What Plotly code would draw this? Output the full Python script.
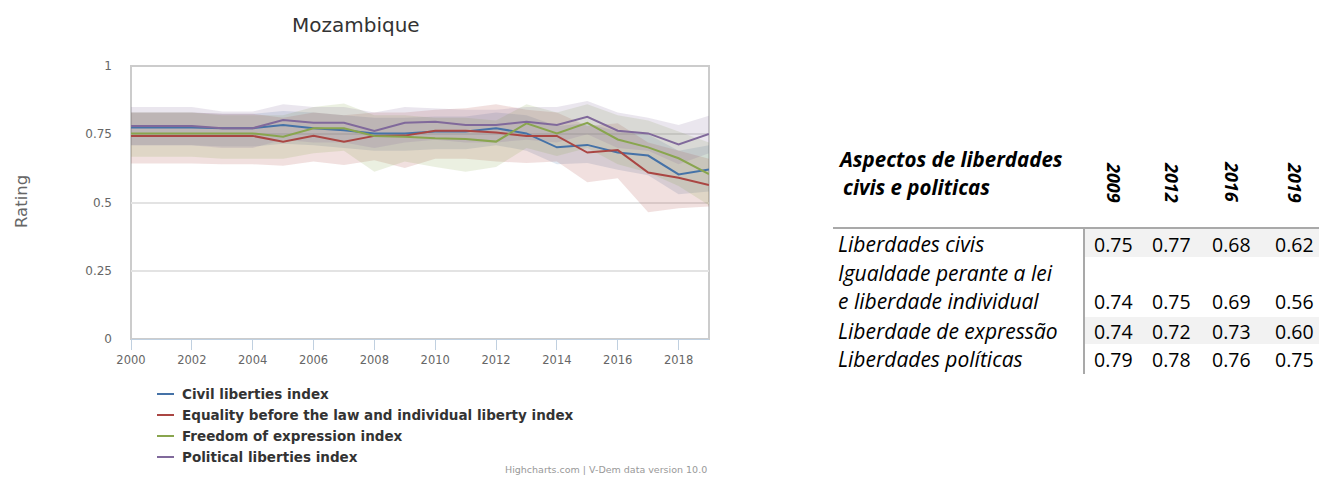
import plotly.graph_objects as go

# ---------------- data ----------------
years = list(range(2000, 2020))

series_names = [
    "Civil liberties index",
    "Equality before the law and individual liberty index",
    "Freedom of expression index",
    "Political liberties index",
]
series_colors = ["#4572A7", "#AA4643", "#89A54E", "#80699B"]

civil = [0.775, 0.775, 0.775, 0.772, 0.772, 0.784, 0.772, 0.765, 0.753, 0.753,
         0.760, 0.760, 0.772, 0.753, 0.702, 0.711, 0.683, 0.672, 0.603, 0.621]
civil_hi = [0.83, 0.83, 0.83, 0.825, 0.825, 0.835, 0.83, 0.82, 0.81, 0.81,
            0.815, 0.815, 0.83, 0.82, 0.78, 0.79, 0.76, 0.75, 0.69, 0.71]
civil_lo = [0.71, 0.71, 0.71, 0.705, 0.705, 0.715, 0.71, 0.70, 0.69, 0.69,
            0.695, 0.695, 0.71, 0.69, 0.64, 0.645, 0.62, 0.60, 0.53, 0.54]

equality = [0.744, 0.744, 0.744, 0.744, 0.744, 0.723, 0.744, 0.723, 0.744, 0.745,
            0.763, 0.763, 0.756, 0.744, 0.744, 0.683, 0.692, 0.610, 0.591, 0.564]
equality_hi = [0.83, 0.83, 0.83, 0.825, 0.825, 0.81, 0.83, 0.82, 0.83, 0.83,
               0.84, 0.845, 0.86, 0.84, 0.83, 0.78, 0.79, 0.72, 0.69, 0.66]
equality_lo = [0.643, 0.643, 0.643, 0.64, 0.64, 0.635, 0.65, 0.637, 0.655, 0.626,
               0.66, 0.66, 0.65, 0.645, 0.65, 0.574, 0.589, 0.464, 0.479, 0.485]

freedom = [0.753, 0.753, 0.753, 0.753, 0.753, 0.741, 0.772, 0.772, 0.744, 0.741,
           0.735, 0.733, 0.723, 0.790, 0.753, 0.792, 0.731, 0.702, 0.662, 0.604]
freedom_hi = [0.83, 0.83, 0.83, 0.82, 0.82, 0.82, 0.85, 0.863, 0.82, 0.82,
              0.81, 0.81, 0.80, 0.86, 0.83, 0.86, 0.82, 0.80, 0.76, 0.72]
freedom_lo = [0.668, 0.668, 0.668, 0.66, 0.66, 0.66, 0.68, 0.69, 0.613, 0.65,
              0.63, 0.613, 0.63, 0.70, 0.67, 0.70, 0.64, 0.61, 0.56, 0.49]

political = [0.780, 0.780, 0.780, 0.772, 0.772, 0.802, 0.792, 0.792, 0.762, 0.792,
             0.796, 0.784, 0.784, 0.796, 0.784, 0.814, 0.763, 0.753, 0.713, 0.751]
political_hi = [0.85, 0.85, 0.85, 0.833, 0.833, 0.86, 0.85, 0.85, 0.83, 0.85,
                0.845, 0.84, 0.84, 0.85, 0.85, 0.872, 0.83, 0.81, 0.784, 0.818]
political_lo = [0.71, 0.71, 0.71, 0.70, 0.70, 0.73, 0.72, 0.72, 0.70, 0.72,
                0.73, 0.72, 0.72, 0.73, 0.72, 0.75, 0.70, 0.69, 0.64, 0.68]

y_ticks = [0, 0.25, 0.5, 0.75, 1]
y_tick_labels = ["0", "0.25", "0.5", "0.75", "1"]

# table data
table_title = ["Aspectos de liberdades", "civis e politicas"]
table_years = ["2009", "2012", "2016", "2019"]
table_rows = [
    ["Liberdades civis"],
    ["Igualdade perante a lei", "e liberdade individual"],
    ["Liberdade de expressão"],
    ["Liberdades políticas"],
]
table_values = [
    ["0.75", "0.77", "0.68", "0.62"],
    ["0.74", "0.75", "0.69", "0.56"],
    ["0.74", "0.72", "0.73", "0.60"],
    ["0.79", "0.78", "0.76", "0.75"],
]

# ---------------- layout geometry (page pixels) ----------------
PAGE_W, PAGE_H = 1327, 485
OFF = 8  # default body margin of the html page
FIG_W, FIG_H = PAGE_W - 2 * OFF, PAGE_H - 2 * OFF - 2  # fits inside the body, no scrollbars
L, R, T, B = 131, 709, 66, 339  # plot area in page pixels


def px(x):
    return (x - L) / (R - L)


def py(y):
    return (B - y) / (B - T)


def rgba(hexc, a):
    h = hexc.lstrip("#")
    r, g, b = int(h[0:2], 16), int(h[2:4], 16), int(h[4:6], 16)
    return f"rgba({r},{g},{b},{a})"


fig = go.Figure()

values = [civil, equality, freedom, political]
highs = [civil_hi, equality_hi, freedom_hi, political_hi]
lows = [civil_lo, equality_lo, freedom_lo, political_lo]

# bands
for name, col, lo, hi in zip(series_names, series_colors, lows, highs):
    fig.add_trace(go.Scatter(x=years, y=lo, mode="lines", line=dict(width=0),
                             showlegend=False, hoverinfo="skip"))
    fig.add_trace(go.Scatter(x=years, y=hi, mode="lines", line=dict(width=0),
                             fill="tonexty", fillcolor=rgba(col, 0.17),
                             showlegend=False, hoverinfo="skip"))
# lines
for name, col, v in zip(series_names, series_colors, values):
    fig.add_trace(go.Scatter(x=years, y=v, mode="lines", name=name,
                             line=dict(color=col, width=2), showlegend=False))

shapes = []
annotations = []

# plot border
shapes.append(dict(type="rect", xref="paper", yref="paper", x0=0, x1=1, y0=0, y1=1,
                   line=dict(color="#cccccc", width=2), layer="below"))

# title
annotations.append(dict(text="Mozambique", xref="paper", yref="paper",
                        x=px(356), y=py(25), showarrow=False,
                        xanchor="center", yanchor="middle",
                        font=dict(family="DejaVu Sans", size=20, color="#333333")))
# y axis title
annotations.append(dict(text="Rating", xref="paper", yref="paper",
                        x=px(21), y=py(202), showarrow=False, textangle=-90,
                        xanchor="center", yanchor="middle",
                        font=dict(family="DejaVu Sans", size=16.5, color="#666666")))

# legend (manual)
leg_y = [394, 415, 436, 457]
for name, col, yy in zip(series_names, series_colors, leg_y):
    shapes.append(dict(type="line", xref="paper", yref="paper",
                       x0=px(157), x1=px(174), y0=py(yy), y1=py(yy),
                       line=dict(color=col, width=2)))
    annotations.append(dict(text="<b>" + name + "</b>", xref="paper", yref="paper",
                            x=px(180), y=py(yy), showarrow=False,
                            xanchor="left", yanchor="middle",
                            font=dict(family="DejaVu Sans", size=13.5, color="#333333")))

# credits
annotations.append(dict(text="Highcharts.com | V-Dem data version 10.0",
                        xref="paper", yref="paper", x=px(709), y=py(469),
                        showarrow=False, xanchor="right", yanchor="middle",
                        font=dict(family="DejaVu Sans", size=9.5, color="#999999")))

# ---------------- table ----------------
TF = "Open Sans"
TABLE_RIGHT = PAGE_W - OFF
# row shading
shapes.append(dict(type="rect", xref="paper", yref="paper",
                   x0=px(1085), x1=px(TABLE_RIGHT), y0=py(257), y1=py(229),
                   fillcolor="#f2f2f2", line=dict(width=0), layer="below"))
shapes.append(dict(type="rect", xref="paper", yref="paper",
                   x0=px(1085), x1=px(TABLE_RIGHT), y0=py(344), y1=py(317),
                   fillcolor="#f2f2f2", line=dict(width=0), layer="below"))
# rules
shapes.append(dict(type="line", xref="paper", yref="paper",
                   x0=px(833), x1=px(TABLE_RIGHT), y0=py(228), y1=py(228),
                   line=dict(color="#8c8c8c", width=1.5)))
shapes.append(dict(type="line", xref="paper", yref="paper",
                   x0=px(1084), x1=px(1084), y0=py(229), y1=py(374),
                   line=dict(color="#8c8c8c", width=1.5)))

# title lines
title_x = [836, 841]
title_y = [159, 187]
for txt, xx, yy in zip(table_title, title_x, title_y):
    annotations.append(dict(text="<b><i>" + txt + "</i></b>",
                            xref="paper", yref="paper", x=px(xx), y=py(yy),
                            showarrow=False, xanchor="left", yanchor="middle",
                            font=dict(family=TF, size=20.5, color="#000000")))

col_x = [1113, 1171, 1231, 1294]
for yr, cx in zip(table_years, col_x):
    annotations.append(dict(text="<b><i>" + yr + "</i></b>", xref="paper", yref="paper",
                            x=px(cx + 1), y=py(182), showarrow=False, textangle=90,
                            xanchor="center", yanchor="middle",
                            font=dict(family=TF, size=18, color="#000000")))

row_label_y = [[244], [273, 301], [331], [359]]
row_value_y = [244, 301, 331, 359]
for labels, ys, vals, vy in zip(table_rows, row_label_y, table_values, row_value_y):
    for lab, yy in zip(labels, ys):
        annotations.append(dict(text="<i>" + lab + "</i>", xref="paper", yref="paper",
                                x=px(836), y=py(yy), showarrow=False,
                                xanchor="left", yanchor="middle",
                                font=dict(family=TF, size=21, color="#000000")))
    for v, cx in zip(vals, col_x):
        annotations.append(dict(text=v, xref="paper", yref="paper",
                                x=px(cx), y=py(vy), showarrow=False,
                                xanchor="center", yanchor="middle",
                                font=dict(family=TF, size=19.5, color="#000000")))

fig.update_layout(
    width=FIG_W, height=FIG_H,
    margin=dict(l=L - OFF, r=(FIG_W + OFF) - R, t=T - OFF, b=(FIG_H + OFF) - B, pad=0),
    paper_bgcolor="white", plot_bgcolor="white",
    showlegend=False,
    shapes=shapes, annotations=annotations,
    xaxis=dict(range=[2000, 2019], tickmode="linear", tick0=2000, dtick=2,
               showgrid=False, zeroline=False, showline=True, linecolor="#C0D0E0",
               linewidth=1, ticks="outside", ticklen=10, tickcolor="#C0D0E0",
               tickfont=dict(family="DejaVu Sans", size=11.5, color="#666666")),
    yaxis=dict(range=[0, 1], tickvals=y_ticks, ticktext=y_tick_labels,
               showgrid=True, gridcolor="#e3e3e3", gridwidth=2, zeroline=False,
               showline=False, ticks="", ticklabelstandoff=18,
               tickfont=dict(family="DejaVu Sans", size=12, color="#666666")),
)

fig.write_html("out.html")
